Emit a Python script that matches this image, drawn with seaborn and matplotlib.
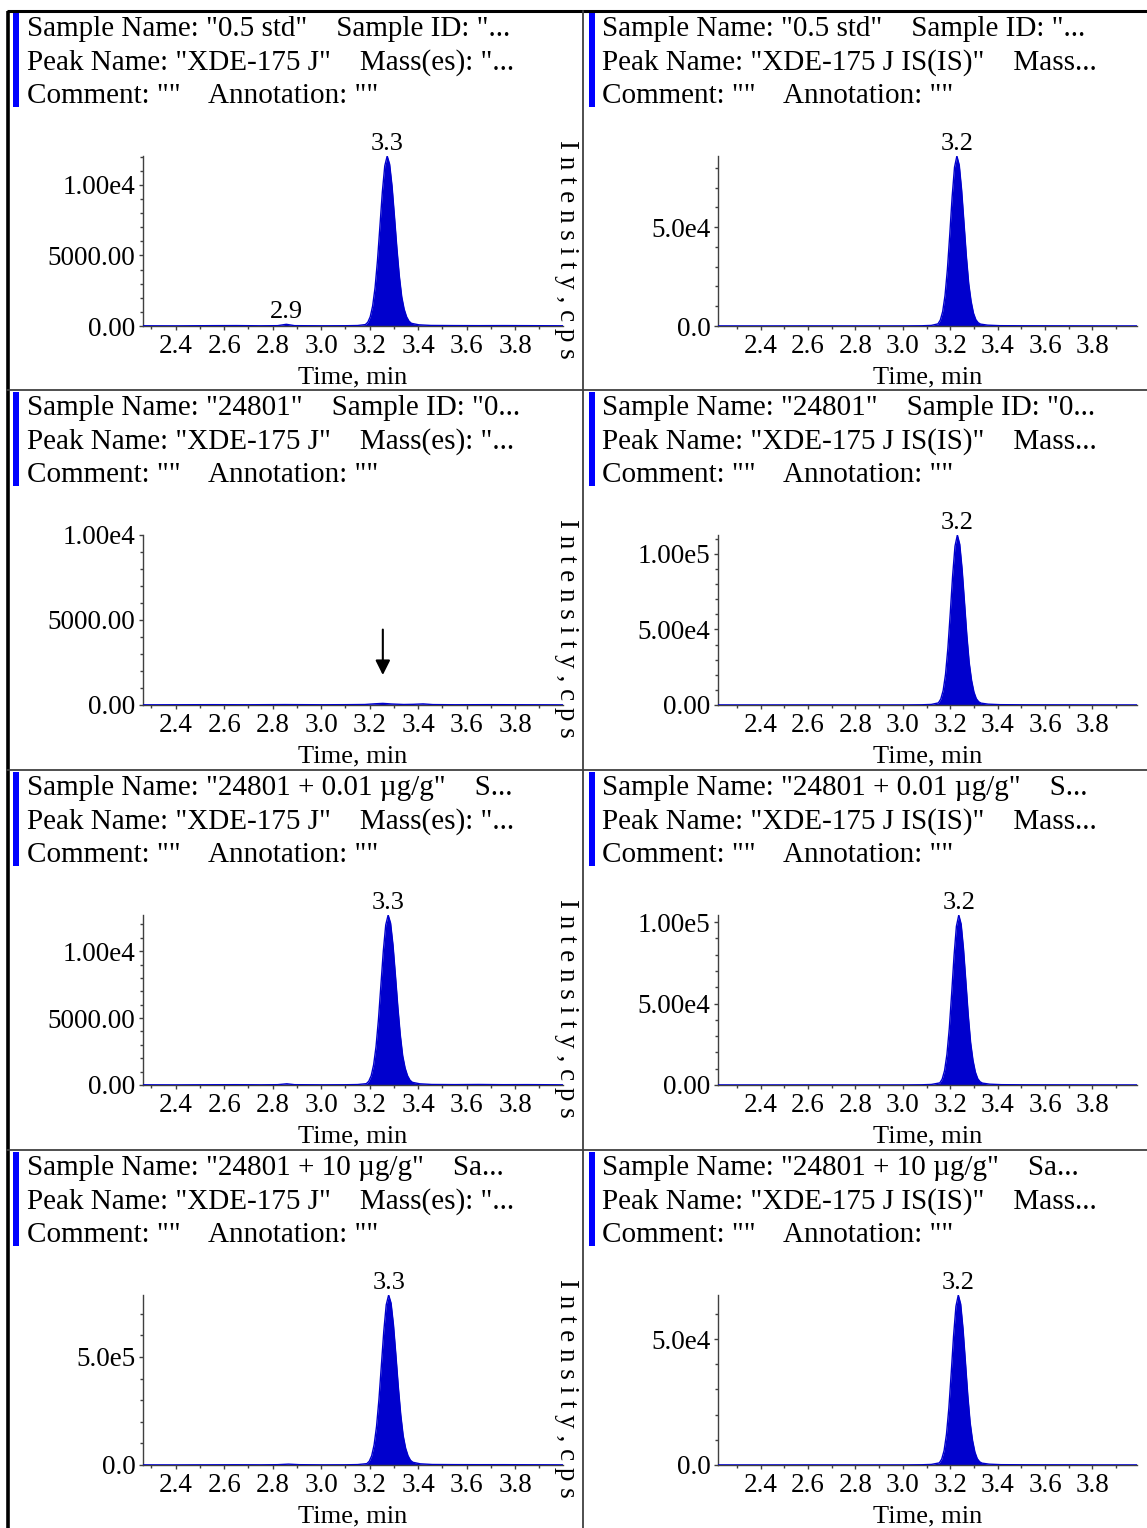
import numpy as np
import pandas as pd
import matplotlib.pyplot as plt
import seaborn as sns
from matplotlib.ticker import MultipleLocator
from matplotlib.patches import Rectangle

# ---- data ----
# row 1: 0.5 std
std_t = [2.265, 2.40, 2.55, 2.65, 2.75, 2.82, 2.856, 2.89, 3.00, 3.10, 3.15,
         3.182, 3.192, 3.202, 3.212, 3.222, 3.232, 3.242, 3.252, 3.262, 3.272,
         3.282, 3.292, 3.302, 3.312, 3.322, 3.332, 3.342, 3.352, 3.362, 3.372, 3.402, 3.452,
         3.55, 3.65, 3.75, 3.85, 4.00]
std_y = [15, 10, 25, 30, 15, 25, 120, 25, 15, 20, 35,
         100, 265, 650, 1420, 2720, 4650, 7060, 9500, 11350, 12050,
         11470, 9920, 7770, 5520, 3550, 2070, 1190, 650, 340, 190, 85, 40,
         30, 25, 30, 25, 15]
std_is_t = [2.22, 2.40, 2.60, 2.80, 3.00, 3.08, 3.12,
            3.148, 3.158, 3.168, 3.178, 3.188, 3.198, 3.208, 3.218, 3.228,
            3.238, 3.248, 3.258, 3.268, 3.278, 3.288, 3.298, 3.308, 3.318, 3.328, 3.358, 3.408,
            3.50, 3.60, 3.70, 3.85, 3.99]
std_is_y = [50, 40, 60, 40, 50, 120, 300,
            1070, 2980, 7280, 15500, 28700, 46400, 65400, 80300, 86000,
            81400, 68800, 52200, 35300, 21400, 12500, 6500, 3200, 1630, 950, 430, 170,
            120, 100, 80, 50, 40]

# row 2: 24801
smp_t = [2.265, 2.40, 2.55, 2.70, 2.85, 3.00, 3.10, 3.18, 3.22, 3.254, 3.29,
         3.34, 3.38, 3.42, 3.46, 3.55, 3.70, 3.85, 4.00]
smp_y = [10, 15, 20, 15, 25, 15, 20, 30, 70, 95, 60,
         30, 40, 65, 25, 15, 20, 15, 10]
smp_is_t = [2.22, 2.40, 2.60, 2.80, 3.00, 3.08, 3.12,
            3.150, 3.160, 3.170, 3.180, 3.190, 3.200, 3.210, 3.220, 3.230,
            3.240, 3.250, 3.260, 3.270, 3.280, 3.290, 3.300, 3.310, 3.320, 3.330, 3.360, 3.410,
            3.50, 3.60, 3.70, 3.85, 3.99]
smp_is_y = [60, 50, 70, 50, 60, 150, 380,
            1400, 3900, 9520, 20250, 37600, 60600, 85500, 105100, 112500,
            106400, 90000, 68300, 46200, 28000, 16300, 8550, 4160, 2140, 1240, 560, 225,
            150, 120, 100, 60, 50]

# row 3: 24801 + 0.01 ug/g
lo_t = [2.265, 2.40, 2.55, 2.65, 2.75, 2.82, 2.858, 2.89, 3.00, 3.10, 3.15,
        3.186, 3.196, 3.206, 3.216, 3.226, 3.236, 3.246, 3.256, 3.266, 3.276,
        3.286, 3.296, 3.306, 3.316, 3.326, 3.336, 3.346, 3.356, 3.366, 3.376, 3.406, 3.456,
        3.55, 3.65, 3.75, 3.85, 4.00]
lo_y = [15, 10, 20, 25, 15, 25, 90, 25, 15, 20, 35,
        100, 280, 690, 1500, 2870, 4900, 7440, 10010, 11960, 12700,
        12090, 10450, 8190, 5820, 3750, 2180, 1260, 690, 360, 200, 90, 40,
        30, 40, 25, 30, 15]
lo_is_t = [2.22, 2.40, 2.60, 2.80, 3.00, 3.08, 3.12,
           3.156, 3.166, 3.176, 3.186, 3.196, 3.206, 3.216, 3.226, 3.236,
           3.246, 3.256, 3.266, 3.276, 3.286, 3.296, 3.306, 3.316, 3.326, 3.336, 3.366, 3.416,
           3.50, 3.60, 3.70, 3.85, 3.99]
lo_is_y = [55, 45, 65, 45, 55, 140, 340,
           1290, 3620, 8820, 18800, 34800, 56200, 79300, 97400, 104300,
           98700, 83400, 63300, 42900, 26000, 15100, 7930, 3860, 1980, 1150, 520, 210,
           140, 110, 90, 55, 45]

# row 4: 24801 + 10 ug/g
hi_t = [2.265, 2.40, 2.55, 2.65, 2.75, 2.82, 2.865, 2.91, 3.00, 3.10, 3.15,
        3.188, 3.198, 3.208, 3.218, 3.228, 3.238, 3.248, 3.258, 3.268, 3.278,
        3.288, 3.298, 3.308, 3.318, 3.328, 3.338, 3.348, 3.358, 3.368, 3.378, 3.408, 3.458,
        3.55, 3.65, 3.75, 3.85, 4.00]
hi_y = [600, 500, 900, 1200, 800, 1500, 4000, 1500, 800, 1000, 2000,
        6300, 17300, 42500, 92900, 177900, 303800, 461200, 620200, 741400, 787000,
        749200, 647700, 507600, 360400, 232200, 135400, 77900, 42500, 22000, 12600, 5500, 2400,
        1800, 1500, 1600, 1200, 800]
hi_is_t = [2.22, 2.40, 2.60, 2.80, 3.00, 3.08, 3.12,
           3.154, 3.164, 3.174, 3.184, 3.194, 3.204, 3.214, 3.224, 3.234,
           3.244, 3.254, 3.264, 3.274, 3.284, 3.294, 3.304, 3.314, 3.324, 3.334, 3.364, 3.414,
           3.50, 3.60, 3.70, 3.85, 3.99]
hi_is_y = [40, 35, 50, 35, 40, 100, 230,
           840, 2340, 5710, 12150, 22500, 36400, 51300, 63000, 67500,
           63900, 54000, 41000, 27700, 16800, 9800, 5130, 2500, 1280, 740, 340, 135,
           100, 80, 70, 40, 35]

# header text of each pane
hdr_std = ['Sample Name: "0.5 std"    Sample ID: "...',
           'Peak Name: "XDE-175 J"    Mass(es): "...',
           'Comment: ""    Annotation: ""']
hdr_std_is = ['Sample Name: "0.5 std"    Sample ID: "...',
              'Peak Name: "XDE-175 J IS(IS)"    Mass...',
              'Comment: ""    Annotation: ""']
hdr_smp = ['Sample Name: "24801"    Sample ID: "0...',
           'Peak Name: "XDE-175 J"    Mass(es): "...',
           'Comment: ""    Annotation: ""']
hdr_smp_is = ['Sample Name: "24801"    Sample ID: "0...',
              'Peak Name: "XDE-175 J IS(IS)"    Mass...',
              'Comment: ""    Annotation: ""']
hdr_lo = ['Sample Name: "24801 + 0.01 µg/g"    S...',
          'Peak Name: "XDE-175 J"    Mass(es): "...',
          'Comment: ""    Annotation: ""']
hdr_lo_is = ['Sample Name: "24801 + 0.01 µg/g"    S...',
             'Peak Name: "XDE-175 J IS(IS)"    Mass...',
             'Comment: ""    Annotation: ""']
hdr_hi = ['Sample Name: "24801 + 10 µg/g"    Sa...',
          'Peak Name: "XDE-175 J"    Mass(es): "...',
          'Comment: ""    Annotation: ""']
hdr_hi_is = ['Sample Name: "24801 + 10 µg/g"    Sa...',
             'Peak Name: "XDE-175 J IS(IS)"    Mass...',
             'Comment: ""    Annotation: ""']

# y axes of each pane
yt_e4 = [0, 5000, 10000]
yl_e4 = ['0.00', '5000.00', '1.00e4']
yt_is = [0, 50000]
yl_is = ['0.0', '5.0e4']
yt_e5 = [0, 50000, 100000]
yl_e5 = ['0.00', '5.00e4', '1.00e5']
yt_hi = [0, 500000]
yl_hi = ['0.0', '5.0e5']
y_tops = [12050, 86000, 10000, 112500, 12700, 104300, 787000, 67500]
y_minor = [1000, 10000, 1000, 10000, 1000, 10000, 100000, 10000]

# labelled peaks (retention time)
peak_labels = [[3.272, 2.856], [3.228], [], [3.230], [3.276], [3.236], [3.278], [3.234]]
arrow_times = [[], [], [3.254], [], [], [], [], []]

x_ticks = [2.4, 2.6, 2.8, 3.0, 3.2, 3.4, 3.6, 3.8]
x_lims = [(2.265, 3.997), (2.22, 3.988)]

panels = [
    (std_t, std_y, hdr_std, yt_e4, yl_e4),
    (std_is_t, std_is_y, hdr_std_is, yt_is, yl_is),
    (smp_t, smp_y, hdr_smp, yt_e4, yl_e4),
    (smp_is_t, smp_is_y, hdr_smp_is, yt_e5, yl_e5),
    (lo_t, lo_y, hdr_lo, yt_e4, yl_e4),
    (lo_is_t, lo_is_y, hdr_lo_is, yt_e5, yl_e5),
    (hi_t, hi_y, hdr_hi, yt_hi, yl_hi),
    (hi_is_t, hi_is_y, hdr_hi_is, yt_is, yl_is),
]

# ---- style ----
sns.set_theme(style="ticks")
plt.rcParams['font.family'] = ['Liberation Serif', 'DejaVu Serif']
plt.rcParams['axes.facecolor'] = 'none'
plt.rcParams['text.color'] = 'black'
plt.rcParams['axes.labelcolor'] = 'black'
plt.rcParams['xtick.labelcolor'] = 'black'
plt.rcParams['ytick.labelcolor'] = 'black'

blue = '#0000CD'
bar_blue = '#0000FF'
axis_col = '#404040'
W, H = 1147, 1528
row_tops = [11, 390, 770, 1150]

fig = plt.figure(figsize=(W / 100, H / 100), dpi=100)
fig.patch.set_facecolor('white')


def px_rect(x0, y0, x1, y1):
    return [x0 / W, 1 - y1 / H, (x1 - x0) / W, (y1 - y0) / H]


# overlay for frame lines, header bars and header text
ov = fig.add_axes([0, 0, 1, 1])
ov.set_xlim(0, W)
ov.set_ylim(H, 0)
ov.axis('off')
ov.plot([7, W], [11, 11], color='black', lw=2.2, solid_capstyle='butt')
ov.plot([7.5, 7.5], [11, H], color='black', lw=2.6, solid_capstyle='butt')
for yy in row_tops[1:]:
    ov.plot([7, W], [yy, yy], color=axis_col, lw=1.3)
ov.plot([583, 583], [11, H], color=axis_col, lw=1.3)

for i, (t, y, hdr, yt, yl) in enumerate(panels):
    row, col = divmod(i, 2)
    top = row_tops[row]
    bx = 13 if col == 0 else 589
    tx = 27 if col == 0 else 602
    ov.add_patch(Rectangle((bx, top + 2), 6, 94, color=bar_blue, lw=0))
    for k, line in enumerate(hdr):
        ov.text(tx, top + 18 + 33.5 * k, line, fontsize=21, ha='left', va='center',
                color='black')

    x0, x1 = (143, 563) if col == 0 else (718, 1137)
    ax = fig.add_axes(px_rect(x0, top + 145, x1, top + 315))
    df = pd.DataFrame({'time': t, 'intensity': y})
    ax.fill_between(df['time'], df['intensity'], color=blue, lw=0, zorder=2)
    sns.lineplot(data=df, x='time', y='intensity', ax=ax, color=blue, lw=1.0, zorder=3)

    ax.set_xlim(*x_lims[col])
    ax.set_ylim(0, y_tops[i])
    ax.set_xticks(x_ticks)
    ax.set_xticklabels([f'{v:.1f}' for v in x_ticks])
    ax.xaxis.set_minor_locator(MultipleLocator(0.1))
    ax.set_yticks(yt)
    ax.set_yticklabels(yl)
    ax.yaxis.set_minor_locator(MultipleLocator(y_minor[i]))
    for s in ['top', 'right']:
        ax.spines[s].set_visible(False)
    for s in ['left', 'bottom']:
        ax.spines[s].set_color(axis_col)
        ax.spines[s].set_linewidth(1.0)
    ax.tick_params(which='major', direction='out', length=3, width=1, color=axis_col,
                   labelsize=19.5, labelcolor='black', pad=2.5)
    ax.tick_params(which='minor', direction='out', length=2, width=1, color=axis_col)
    ax.set_xlabel('Time, min', fontsize=19, labelpad=5.5, color='black')
    ax.set_ylabel('')

    for pt in peak_labels[i]:
        py = np.interp(pt, t, y)
        ax.annotate(f'{pt:.1f}', xy=(pt, py), xytext=(0, 1), textcoords='offset points',
                    ha='center', va='bottom', fontsize=19, color='black',
                    annotation_clip=False)
    for at in arrow_times[i]:
        ax.annotate('', xy=(at, 0.16 * y_tops[i]), xytext=(at, 0.46 * y_tops[i]),
                    arrowprops=dict(arrowstyle='-|>', color='black', lw=1.5, mutation_scale=22))

    if col == 0:
        fig.text(566 / W, 1 - (top + 238) / H, 'I n t e n s i t y , c p s', rotation=270,
                 ha='center', va='center', fontsize=19.5, color='black')

fig.savefig('out.png', dpi=100)
